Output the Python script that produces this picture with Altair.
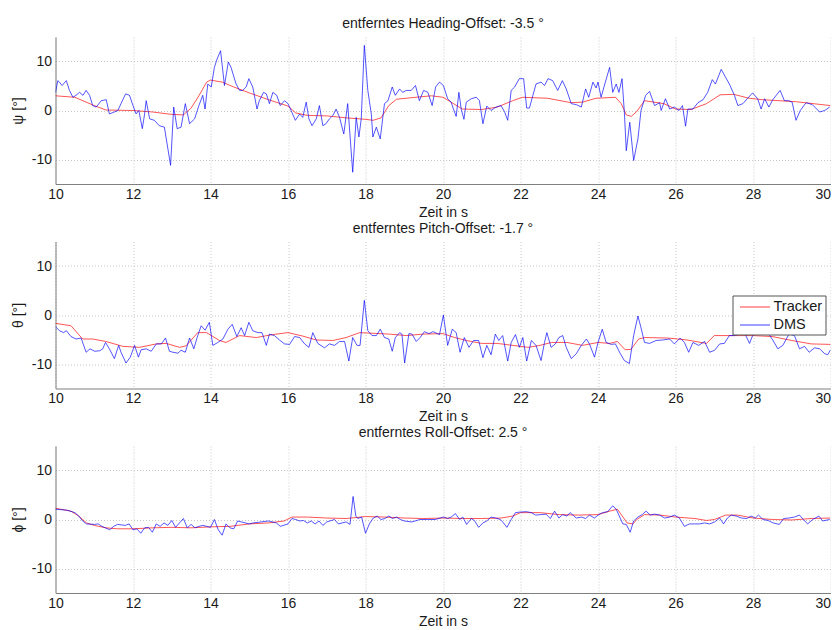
import altair as alt
import pandas as pd

# ---------------- Panel 1: Heading (psi) ----------------
psi_trk_t = [10.0, 10.5, 11.0, 11.3, 12.0, 12.5, 13.0, 13.3, 13.5, 13.7, 13.9, 14.0, 14.3, 14.6, 15.0,
             15.5, 16.0, 16.2, 16.5, 17.0, 17.5, 18.0, 18.2, 18.4, 18.6, 18.8, 19.3, 19.7, 20.0, 20.5,
             21.0, 21.4, 21.8, 22.05, 22.7, 23.3, 23.6, 23.95, 24.45, 24.6, 24.73, 24.86, 25.0, 25.2,
             25.7, 26.0, 26.4, 26.8, 27.15, 27.5, 27.9, 28.25, 29.1, 30.0]
psi_trk_v = [3.0, 2.7, 1.0, 0.1, 0.0, -0.3, -0.8, -0.9, 0.5, 3.0, 5.8, 6.2, 5.8, 4.8, 3.6,
             2.2, 0.9, -0.5, -1.0, -1.1, -1.5, -1.8, -2.0, -1.5, 1.0, 2.3, 2.7, 3.0, 2.7, 0.3,
             0.2, 0.7, 2.0, 2.7, 2.5, 1.6, 1.7, 2.5, 2.7, 1.4, -0.9, -1.2, -0.2, 2.0,
             1.4, 0.3, 0.2, 1.4, 3.2, 3.3, 2.5, 2.2, 1.8, 1.0]
psi_dms_t = [10.00, 10.06, 10.10, 10.17, 10.28, 10.36, 10.45, 10.53, 10.62, 10.71, 10.79, 10.88, 10.96,
             11.05, 11.18, 11.31, 11.39, 11.52, 11.61, 11.69, 11.81, 11.91, 12.00, 12.08, 12.15, 12.24,
             12.30, 12.34, 12.43, 12.55, 12.68, 12.81, 12.97, 13.05, 13.14, 13.24, 13.35, 13.46, 13.59,
             13.70, 13.80, 13.86, 13.93, 14.02, 14.10, 14.17, 14.26, 14.36, 14.46, 14.53, 14.66, 14.75,
             14.83, 14.92, 14.99, 15.09, 15.20, 15.26, 15.37, 15.44, 15.52, 15.61, 15.71, 15.80, 15.91,
             16.00, 16.08, 16.19, 16.30, 16.38, 16.47, 16.54, 16.62, 16.73, 16.81, 16.90, 16.98, 17.07,
             17.16, 17.24, 17.33, 17.44, 17.54, 17.67, 17.76, 17.83, 17.89, 17.97, 18.06, 18.15, 18.19,
             18.28, 18.38, 18.49, 18.58, 18.69, 18.77, 18.88, 18.96, 19.05, 19.18, 19.29, 19.39, 19.50,
             19.61, 19.72, 19.81, 19.91, 20.01, 20.12, 20.21, 20.27, 20.34, 20.41, 20.47, 20.54, 20.60,
             20.73, 20.86, 20.94, 21.03, 21.13, 21.24, 21.37, 21.50, 21.59, 21.67, 21.76, 21.85, 21.97,
             22.08, 22.16, 22.23, 22.32, 22.40, 22.53, 22.62, 22.71, 22.83, 22.96, 23.08, 23.18, 23.31,
             23.44, 23.57, 23.68, 23.76, 23.87, 23.95, 24.00, 24.08, 24.19, 24.30, 24.38, 24.47, 24.54,
             24.62, 24.68, 24.73, 24.82, 24.92, 25.03, 25.11, 25.23, 25.33, 25.46, 25.59, 25.63, 25.74,
             25.85, 25.97, 26.09, 26.18, 26.26, 26.32, 26.45, 26.58, 26.71, 26.83, 26.95, 27.03, 27.18,
             27.29, 27.39, 27.52, 27.61, 27.74, 27.85, 27.99, 28.12, 28.21, 28.30, 28.41, 28.51, 28.70,
             28.81, 28.92, 29.01, 29.11, 29.22, 29.37, 29.53, 29.72, 29.85, 29.98]
psi_dms_v = [3.7, 6.1, 5.8, 5.1, 6.1, 4.1, 2.7, 3.1, 3.7, 3.1, 4.1, 3.1, 1.0,
             0.7, 2.0, 2.2, -0.7, -0.3, 0.0, 1.4, 3.4, 3.1, 1.0, -0.7, 0.0, -3.7,
             -0.7, 2.0, -1.7, -2.0, -3.1, -3.4, -11.2, 0.7, -3.7, -3.4, 1.4, -2.7, -1.7,
             1.0, 3.1, 0.3, 5.4, 4.8, 8.8, 10.5, 12.2, 5.1, 9.9, 8.8, 5.4, 4.1,
             4.1, 4.8, 6.5, 4.8, 0.3, 2.0, 3.7, 3.4, 1.4, 3.7, 3.1, 1.0, 2.0,
             1.4, 0.0, -2.0, -0.7, -1.4, 1.7, -1.7, -3.1, -1.7, 1.0, -3.1, -2.7, -1.7,
             -1.0, 0.3, -1.4, -4.8, 1.4, -12.6, -1.4, -5.4, -1.7, 13.3, 4.1, -0.7, -5.4,
             -3.4, -5.8, 1.4, 2.0, 4.8, 3.1, 4.4, 3.7, 4.1, 4.1, 5.1, 2.0, 4.1,
             3.7, 1.0, 4.8, 5.8, 5.1, 2.4, 1.7, 0.3, -1.2, 3.7, 0.3, -1.8, 1.7,
             2.4, 2.7, 2.0, -2.7, 0.9, 0.0, 0.7, 1.0, -0.3, -2.0, 4.1, 4.8, 6.5,
             6.5, 0.5, 0.5, 3.1, 5.4, 5.8, 5.1, 6.5, 6.1, 4.1, 6.1, 4.4, 1.4,
             1.2, 0.7, 4.4, 2.7, 5.8, 4.6, 5.8, 2.7, 5.8, 8.8, 3.7, 5.4, 3.7,
             6.5, -0.3, -8.2, -2.4, -10.2, -5.8, 0.0, 3.1, 3.9, 1.0, 1.6, 0.0, 2.4,
             0.3, 0.7, 0.0, 1.0, -3.2, 0.3, 0.3, 1.6, 2.2, 3.7, 6.3, 5.4, 8.4,
             6.8, 5.4, 3.1, 1.0, 1.4, 2.4, 3.6, 2.4, 0.3, 2.4, 0.7, 2.2, 4.1,
             2.0, 2.0, 1.7, -2.0, 0.0, 1.6, 1.2, -0.3, 0.0, 0.7]

# ---------------- Panel 2: Pitch (theta) ----------------
th_trk_t = [10.0, 10.4, 10.7, 10.96, 11.3, 11.74, 12.17, 12.6, 12.86, 13.2, 13.37, 13.67, 13.9, 14.23,
            14.4, 14.75, 15.18, 15.6, 16.0, 16.38, 16.73, 17.16, 17.5, 17.85, 18.62, 19.05, 19.48, 20.0,
            20.3, 20.6, 21.0, 21.4, 21.8, 22.2, 22.5, 22.8, 23.2, 23.6, 24.0, 24.3, 24.5, 24.7, 24.85,
            25.05, 25.2, 25.8, 26.3, 26.8, 27.0, 27.5, 28.0, 28.5, 29.0, 29.5, 30.0]
th_trk_v = [-1.7, -2.2, -4.9, -4.9, -5.4, -6.4, -6.6, -5.9, -5.8, -6.6, -6.3, -3.6, -3.6, -5.2,
            -5.6, -4.2, -4.6, -4.0, -3.6, -4.3, -5.1, -5.2, -4.6, -3.6, -3.9, -4.2, -3.9, -3.8,
            -4.6, -5.2, -5.8, -5.8, -6.2, -6.6, -6.2, -5.6, -5.6, -6.2, -5.6, -5.8, -5.4, -7.1, -7.0,
            -4.9, -4.6, -4.7, -5.1, -5.8, -4.2, -4.2, -4.2, -4.4, -5.2, -5.9, -6.0]
th_dms_t = [10.00, 10.10, 10.21, 10.28, 10.40, 10.53, 10.66, 10.79, 10.89, 11.01, 11.14, 11.22, 11.29,
            11.39, 11.52, 11.63, 11.69, 11.82, 11.93, 12.04, 12.14, 12.21, 12.34, 12.47, 12.60, 12.73,
            12.84, 12.94, 13.03, 13.16, 13.24, 13.35, 13.46, 13.57, 13.67, 13.76, 13.86, 13.97, 14.06,
            14.19, 14.32, 14.45, 14.56, 14.68, 14.79, 14.88, 14.99, 15.09, 15.22, 15.33, 15.44, 15.52,
            15.65, 15.78, 15.91, 16.04, 16.17, 16.30, 16.43, 16.54, 16.64, 16.77, 16.94, 17.07, 17.20,
            17.33, 17.46, 17.57, 17.67, 17.78, 17.86, 17.97, 18.06, 18.17, 18.28, 18.38, 18.49, 18.60,
            18.69, 18.77, 18.88, 18.94, 19.01, 19.12, 19.20, 19.31, 19.41, 19.52, 19.64, 19.74, 19.91,
            20.01, 20.12, 20.24, 20.34, 20.44, 20.55, 20.67, 20.79, 20.92, 21.03, 21.13, 21.24, 21.35,
            21.44, 21.54, 21.67, 21.76, 21.87, 21.97, 22.06, 22.16, 22.28, 22.40, 22.53, 22.62, 22.68,
            22.79, 22.90, 22.99, 23.09, 23.18, 23.31, 23.44, 23.57, 23.70, 23.78, 23.91, 24.00, 24.11,
            24.21, 24.34, 24.45, 24.57, 24.68, 24.81, 24.92, 25.03, 25.11, 25.20, 25.33, 25.50, 25.67,
            25.85, 25.97, 26.12, 26.23, 26.34, 26.45, 26.60, 26.75, 26.88, 27.01, 27.14, 27.26, 27.39,
            27.52, 27.65, 27.78, 27.91, 27.99, 28.12, 28.25, 28.38, 28.51, 28.64, 28.77, 28.93, 29.07,
            29.20, 29.33, 29.45, 29.59, 29.72, 29.85, 29.93, 30.00]
th_dms_v = [-2.4, -3.2, -3.6, -3.2, -4.4, -4.9, -4.7, -7.6, -6.9, -7.4, -7.3, -6.9, -5.6,
            -6.9, -8.9, -6.2, -7.6, -9.8, -8.6, -6.2, -8.6, -7.1, -6.9, -7.4, -5.9, -5.9,
            -4.7, -7.4, -7.6, -7.8, -7.2, -7.6, -4.7, -6.9, -4.2, -2.2, -3.1, -1.5, -6.2,
            -5.6, -4.9, -2.9, -1.9, -4.4, -2.6, -4.2, -1.5, -3.2, -3.6, -3.6, -6.2, -3.9,
            -4.2, -5.1, -5.9, -6.0, -4.4, -4.6, -5.9, -6.6, -3.6, -5.8, -6.7, -5.9, -6.2,
            -5.4, -5.4, -9.4, -4.6, -6.2, -6.2, 3.0, -3.2, -4.2, -4.2, -2.9, -4.6, -4.9,
            -7.4, -4.6, -3.6, -3.9, -9.8, -3.8, -3.9, -5.4, -4.6, -3.4, -3.8, -3.4, -4.0,
            0.0, -6.2, -2.9, -3.6, -7.6, -4.6, -6.6, -5.2, -5.2, -8.7, -6.2, -8.1, -3.9,
            -5.2, -4.2, -9.4, -5.6, -4.0, -6.6, -4.6, -9.4, -5.2, -6.2, -9.3, -5.6, -3.6,
            -6.6, -5.9, -4.6, -4.2, -6.6, -8.9, -7.9, -6.2, -4.9, -5.9, -8.6, -5.6, -2.9,
            -5.6, -6.0, -5.9, -7.8, -9.3, -9.9, -4.2, -0.2, -2.6, -5.6, -5.8, -5.2, -5.1,
            -4.9, -5.9, -4.7, -5.6, -7.6, -5.6, -6.2, -5.4, -7.6, -7.2, -5.9, -5.8, -4.2,
            -4.2, -3.9, -3.6, -5.8, -4.2, -3.2, -3.2, -3.6, -5.1, -6.9, -6.2, -3.9, -4.2,
            -6.9, -6.4, -7.6, -6.7, -6.9, -7.9, -8.1, -7.1]

# ---------------- Panel 3: Roll (phi) ----------------
ph_trk_t = [10.0, 10.4, 10.6, 10.8, 11.0, 11.3, 11.6, 12.0, 12.5, 13.0, 13.5, 14.0, 14.5, 15.0, 15.5,
            15.9, 16.1, 16.5, 17.0, 17.5, 18.0, 18.5, 19.0, 19.5, 20.0, 20.5, 21.0, 21.5, 21.8, 22.0,
            22.5, 23.0, 23.5, 24.0, 24.3, 24.5, 24.6, 24.75, 24.9, 25.0, 25.2, 25.6, 26.0, 26.5, 26.8,
            27.0, 27.3, 27.6, 28.0, 28.5, 29.0, 29.5, 30.0]
ph_trk_v = [2.3, 1.7, 0.7, -0.7, -1.2, -1.7, -1.9, -1.9, -1.7, -1.6, -1.7, -1.5, -1.4, -0.9, -0.7,
            -0.3, 0.5, 0.5, 0.3, 0.2, 0.6, 0.5, 0.3, 0.2, 0.3, 0.2, 0.2, 0.3, 0.7, 1.4,
            1.4, 1.0, 0.9, 1.0, 1.7, 2.1, 1.0, -0.7, -0.9, 0.0, 1.0, 0.9, 0.5, 0.2, -0.2,
            0.0, 0.9, 0.9, 0.3, 0.0, -0.1, 0.2, 0.3]
ph_dms_t = [10.0, 10.3, 10.5, 10.6, 10.7, 10.8, 11.0, 11.1, 11.2, 11.4, 11.5, 11.6, 11.8, 11.9, 12.0,
            12.1, 12.2, 12.3, 12.4, 12.5, 12.6, 12.7, 12.8, 12.9, 13.0, 13.1, 13.2, 13.3, 13.4, 13.5,
            13.6, 13.7, 13.8, 13.9, 14.0, 14.1, 14.2, 14.3, 14.4, 14.5, 14.6, 14.7, 14.8, 15.0, 15.1,
            15.3, 15.5, 15.7, 15.8, 16.0, 16.1, 16.2, 16.3, 16.4, 16.5, 16.6, 16.7, 16.8, 16.9, 17.0,
            17.2, 17.3, 17.5, 17.6, 17.68, 17.75, 17.8, 17.9, 18.0, 18.1, 18.2, 18.3, 18.4, 18.5, 18.6,
            18.7, 18.8, 18.9, 19.0, 19.2, 19.4, 19.6, 19.8, 20.01, 20.12, 20.21, 20.32, 20.43, 20.51,
            20.61, 20.73, 20.81, 20.92, 21.03, 21.13, 21.24, 21.36, 21.48, 21.56, 21.65, 21.76, 21.87,
            21.97, 22.15, 22.28, 22.39, 22.53, 22.66, 22.77, 22.88, 22.99, 23.09, 23.20, 23.28, 23.44,
            23.57, 23.68, 23.78, 23.91, 24.02, 24.12, 24.25, 24.38, 24.47, 24.55, 24.64, 24.73, 24.83,
            24.92, 25.03, 25.14, 25.24, 25.35, 25.46, 25.59, 25.72, 25.85, 25.97, 26.10, 26.23, 26.36,
            26.49, 26.62, 26.75, 26.88, 27.01, 27.14, 27.24, 27.34, 27.44, 27.57, 27.70, 27.84, 27.95,
            28.06, 28.14, 28.26, 28.39, 28.52, 28.68, 28.79, 28.93, 29.07, 29.20, 29.30, 29.41, 29.54,
            29.70, 29.80, 29.98]
ph_dms_v = [2.1, 1.9, 1.4, 0.7, -0.3, -0.9, -1.0, -0.9, -1.4, -2.1, -1.4, -1.0, -1.2, -0.9, -2.1,
            -1.9, -2.8, -1.7, -1.6, -2.6, -0.9, -1.4, -0.7, -1.2, -0.2, -1.6, -0.7, 0.2, -1.7, -1.0,
            -1.7, -1.4, -1.2, -1.4, -1.6, 0.0, -2.1, -3.2, -0.9, -1.7, -1.9, -0.3, -0.5, -0.9, -0.7,
            -0.5, -0.3, -0.7, -1.4, -0.9, 0.2, 0.0, -0.3, -0.2, -0.7, -0.3, -0.9, -0.3, -1.2, -0.5,
            0.0, -0.9, -0.5, -1.0, 4.7, 0.7, 0.2, 0.5, -2.8, -0.9, 0.3, 0.7, 0.0, 0.2, 0.7,
            0.2, 0.5, 0.0, -0.3, -0.5, 0.0, 0.0, 0.0, 0.5, 0.2, 0.5, 1.2, 0.0, 0.5,
            -1.0, 0.2, -0.2, -1.6, -0.7, -0.3, 0.5, 0.3, 0.0, -0.7, -1.6, 0.0, 1.4,
            1.5, 1.6, 1.4, 0.9, 1.0, 1.1, 0.2, 1.7, 0.3, 1.0, 0.7, 1.4, 0.3,
            0.5, 0.2, 0.9, 0.3, 1.0, 1.4, 1.6, 2.8, 2.1, 0.7, -0.9, -1.0, -2.6,
            -0.3, 0.5, 1.0, 1.7, 0.9, 1.1, 0.9, 0.3, 0.5, 0.9, 0.3, -1.4, -0.9,
            -0.9, -0.9, -0.7, -0.9, -0.5, 0.3, -0.9, 0.3, 0.9, 0.7, 0.3, 0.2, 0.7,
            0.3, 0.9, 0.0, -0.2, -0.7, -1.0, 0.2, 0.3, 0.5, 0.9, 0.0, -0.9, 0.0,
            0.7, -0.3, 0.0]

SERIES = ["Tracker", "DMS"]
COLORS = ["#ff0000", "#0000ff"]
X_TICKS = list(range(10, 31, 2))
Y_TICKS = [-10, 0, 10]
FONT = "Liberation Sans"


def make_panel(trk_t, trk_v, dms_t, dms_v, title, ytitle, show_legend):
    df = pd.DataFrame({
        "t": list(trk_t) + list(dms_t),
        "v": list(trk_v) + list(dms_v),
        "s": ["Tracker"] * len(trk_t) + ["DMS"] * len(dms_t),
    })
    df["o"] = range(len(df))
    if show_legend:
        legend = alt.Legend(
            title=None, orient="none", legendX=677, legendY=54,
            symbolType="M-1.875,0L1.875,0", symbolSize=256, symbolStrokeWidth=1,
            symbolOffset=11, labelOffset=10,
            labelFontSize=14.5, labelFont=FONT, labelColor="#1a1a1a",
            strokeColor="#555555", fillColor="white", padding=3,
            rowPadding=3,
        )
    else:
        legend = None
    return alt.Chart(df).mark_line(strokeWidth=0.9, opacity=0.75, clip=True).encode(
        x=alt.X("t:Q",
                scale=alt.Scale(domain=[10, 30], nice=False, zero=False),
                axis=alt.Axis(values=X_TICKS, title="Zeit in s",
                              labelFlush=False,
                              labelAlign={"condition": {"test": "datum.value == 30", "value": "right"},
                                          "value": "center"},
                              labelPadding=3, titlePadding=4)),
        y=alt.Y("v:Q",
                scale=alt.Scale(domain=[-15, 15], nice=False),
                axis=alt.Axis(values=Y_TICKS, title=ytitle,
                              labelExpr="datum.value < 0 ? '-' + abs(datum.value) : '' + datum.value",
                              labelPadding=4, titlePadding=6)),
        stroke=alt.Stroke("s:N", scale=alt.Scale(domain=SERIES, range=COLORS), legend=legend),
        order="o:Q",
    ).properties(
        width=775, height=147,
        title=alt.Title(title, fontSize=14, font=FONT, fontWeight="normal",
                        color="#1a1a1a", offset=6),
    )


p1 = make_panel(psi_trk_t, psi_trk_v, psi_dms_t, psi_dms_v,
                "entferntes Heading-Offset: -3.5 °", "ψ [°]", False)
p2 = make_panel(th_trk_t, th_trk_v, th_dms_t, th_dms_v,
                "entferntes Pitch-Offset: -1.7 °", "θ [°]", True)
p3 = make_panel(ph_trk_t, ph_trk_v, ph_dms_t, ph_dms_v,
                "entferntes Roll-Offset: 2.5 °", "ϕ [°]", False)

chart = alt.vconcat(p1, p2, p3, spacing=2.5).resolve_scale(
    stroke="independent"
).resolve_legend(stroke="independent").properties(
    padding={"left": 2.5, "top": 9, "right": 0, "bottom": 0}
).configure_view(stroke=None).configure_axis(
    labelFont=FONT, titleFont=FONT, labelFontSize=14, titleFontSize=14,
    labelColor="#1a1a1a", titleColor="#1a1a1a", titleFontWeight="normal",
    domainColor="#7f7f7f", ticks=False,
    gridColor="#c8c8c8", gridDash=[1, 2], gridWidth=1,
)

chart.save("out.html", embed_options={"renderer": "svg", "actions": False})
